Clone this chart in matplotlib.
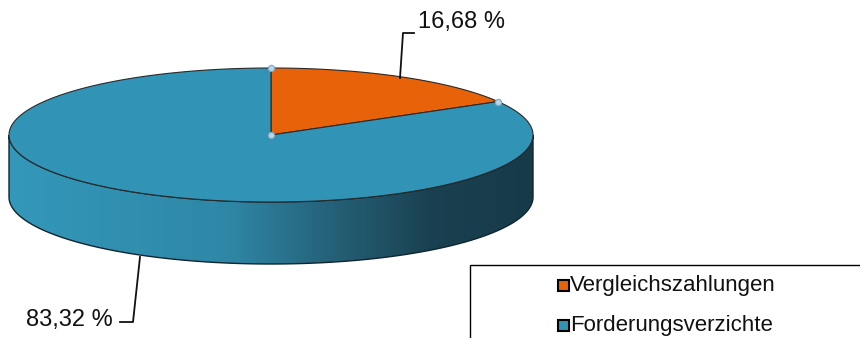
import numpy as np
import matplotlib.pyplot as plt
from matplotlib.patches import Polygon, Rectangle
from matplotlib.colors import LinearSegmentedColormap

# data
categories = ["Vergleichszahlungen", "Forderungsverzichte"]
shares = [16.68, 83.32]
colors = ["#E8620A", "#3194B6"]
labels = ["16,68 %", "83,32 %"]

# pie layout in pixel units
cx, cy = 271, 135
rx, ry = 262, 67
depth = 62


def rim(t0, t1, n=200, dy=0):
    t = np.radians(np.linspace(t0, t1, n))
    return np.column_stack([cx + rx * np.cos(t), cy - ry * np.sin(t) + dy])


fig = plt.figure(figsize=(8.6, 3.38), dpi=100)
ax = fig.add_axes([0, 0, 1, 1])
ax.set_xlim(0, 860)
ax.set_ylim(338, 0)
ax.axis("off")

# front side of the cylinder (shaded from light to dark)
front_top = rim(180, 360)
front_bot = rim(360, 180, dy=depth)
side = Polygon(np.vstack([front_top, front_bot]), closed=True,
               facecolor="none", edgecolor="#102530", lw=1.0, zorder=2)
ax.add_patch(side)
side_cmap = LinearSegmentedColormap.from_list(
    "side", [(0, "#3498BA"), (0.42, "#2E87A6"), (0.6, "#26647C"),
             (0.8, "#1A4151"), (1, "#173A48")])
grad = np.linspace(0, 1, 256).reshape(1, -1)
im = ax.imshow(grad, cmap=side_cmap, aspect="auto",
               extent=[cx - rx, cx + rx, cy + ry + depth, cy - ry], zorder=1)
im.set_clip_path(side)

# top face: slices go clockwise starting at 12 o'clock
start = 90.0
angles = []
for share, col in zip(shares, colors):
    sweep = 360.0 * share / sum(shares)
    pts = np.vstack([[cx, cy], rim(start, start - sweep)])
    ax.add_patch(Polygon(pts, closed=True, facecolor=col,
                         edgecolor="#2a2a2a", lw=0.8, zorder=3))
    angles.append((start, start - sweep))
    start -= sweep

# small handle dots at slice corners
handle_pts = [(cx, cy)] + [tuple(rim(a[0], a[0], n=1)[0]) for a in angles]
for hx, hy in handle_pts:
    ax.plot(hx, hy, "o", ms=4.5, mfc="#B8D4E6", mec="#7FA8C4", mew=0.8,
            zorder=5)

# value labels with leader lines
ax.plot([400, 403, 414], [78, 33, 33], color="#111111", lw=1.3, zorder=4)
ax.text(418, 22, labels[0], fontsize=17, fontfamily="Liberation Sans",
        va="center", ha="left", color="#111111")
ax.plot([140, 133, 120], [257, 322, 322], color="#111111", lw=1.3, zorder=4)
ax.text(113, 320, labels[1], fontsize=17, fontfamily="Liberation Sans",
        va="center", ha="right", color="#111111")

# legend box
ax.add_patch(Rectangle((470, 265), 400, 80, facecolor="white",
                       edgecolor="black", lw=1.0, zorder=6))
for i, (name, col) in enumerate(zip(categories, colors)):
    y = 285 + 40 * i
    ax.add_patch(Rectangle((558, y - 5), 11, 11, facecolor=col,
                           edgecolor="black", lw=1.5, zorder=7))
    ax.text(570, y, name, fontsize=16, fontfamily="Liberation Sans",
            va="center", ha="left", color="#111111", zorder=7)

fig.savefig("out.png", dpi=100)
